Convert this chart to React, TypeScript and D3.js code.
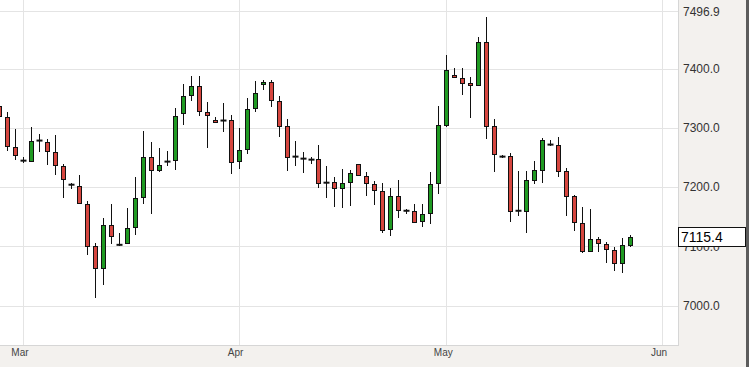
import { useEffect, useRef } from "react"
import * as d3 from "d3"

// daily candles, oldest first
const opens = [
  7337.9, 7319.3, 7268.5, 7244.8, 7244.8, 7278.7, 7277.0, 7260.1, 7236.4, 7204.2,
  7202.5, 7172.1, 7101.0, 7063.8, 7136.5, 7102.7, 7106.1, 7133.2, 7183.9, 7251.6,
  7229.6, 7243.2, 7246.5, 7324.4, 7354.8, 7370.0, 7327.7, 7314.2, 7312.5, 7314.2,
  7244.8, 7265.1, 7334.5, 7373.4, 7376.8, 7344.7, 7304.1, 7251.6, 7248.2, 7246.5,
  7248.2, 7207.6, 7209.3, 7199.2, 7209.3, 7239.8, 7219.5, 7205.9, 7194.1, 7129.8,
  7185.6, 7160.2, 7160.2, 7143.3, 7156.9, 7207.6, 7305.8, 7388.6, 7383.6, 7375.1,
  7371.7, 7444.5, 7304.1, 7251.6, 7253.3, 7160.2, 7160.2, 7212.7, 7229.6, 7271.9,
  7271.9, 7227.9, 7185.6, 7139.9, 7092.6, 7112.9, 7104.4, 7094.2, 7072.2, 7102.7,
]
const highs = [
  7343.0, 7327.7, 7299.0, 7251.6, 7302.4, 7290.5, 7282.1, 7288.8, 7239.8, 7207.6,
  7221.1, 7177.2, 7106.1, 7148.4, 7172.1, 7123.0, 7165.3, 7217.8, 7295.6, 7277.0,
  7266.8, 7261.8, 7334.5, 7373.4, 7386.9, 7386.9, 7343.0, 7319.3, 7341.3, 7322.7,
  7300.7, 7351.4, 7378.5, 7380.2, 7380.2, 7353.1, 7315.9, 7278.7, 7260.1, 7251.6,
  7271.9, 7236.4, 7217.8, 7231.3, 7229.6, 7239.8, 7226.2, 7211.0, 7207.6, 7199.2,
  7212.7, 7163.6, 7172.1, 7172.1, 7226.2, 7337.9, 7422.5, 7400.5, 7400.5, 7385.3,
  7453.0, 7486.8, 7315.9, 7255.0, 7258.4, 7227.9, 7227.9, 7244.8, 7283.7, 7280.4,
  7285.4, 7233.0, 7187.3, 7167.0, 7163.6, 7116.2, 7107.8, 7099.3, 7114.5, 7119.6,
]
const lows = [
  7315.9, 7261.8, 7246.5, 7241.4, 7243.2, 7260.1, 7238.1, 7221.1, 7182.2, 7197.4,
  7172.1, 7085.8, 7013.0, 7035.0, 7104.4, 7101.0, 7106.1, 7119.6, 7172.1, 7155.2,
  7226.2, 7236.4, 7229.6, 7305.8, 7344.7, 7321.0, 7266.8, 7309.1, 7293.9, 7222.8,
  7231.3, 7256.7, 7327.7, 7363.3, 7336.2, 7285.4, 7227.9, 7236.4, 7224.5, 7239.8,
  7199.2, 7182.2, 7167.0, 7165.3, 7168.7, 7221.1, 7185.6, 7170.4, 7123.0, 7117.9,
  7148.4, 7155.2, 7141.6, 7133.2, 7138.2, 7189.0, 7302.4, 7383.6, 7354.8, 7317.6,
  7370.0, 7282.1, 7226.2, 7249.9, 7141.6, 7151.8, 7123.0, 7205.9, 7207.6, 7270.2,
  7217.8, 7151.8, 7126.4, 7089.2, 7092.6, 7090.9, 7072.2, 7058.7, 7055.3, 7099.3,
]
const closes = [
  7321.0, 7270.2, 7255.0, 7244.8, 7278.7, 7278.7, 7261.8, 7238.1, 7214.4, 7204.2,
  7173.8, 7101.0, 7063.8, 7136.5, 7117.9, 7102.7, 7131.5, 7182.2, 7251.6, 7229.6,
  7238.1, 7243.2, 7321.0, 7353.1, 7370.0, 7329.4, 7322.7, 7310.8, 7312.5, 7243.2,
  7263.4, 7332.8, 7358.2, 7376.8, 7346.4, 7304.1, 7251.6, 7251.6, 7248.2, 7246.5,
  7207.6, 7207.6, 7199.2, 7207.6, 7224.5, 7221.1, 7207.6, 7195.7, 7128.1, 7185.6,
  7161.9, 7160.2, 7141.6, 7155.2, 7205.9, 7305.8, 7397.1, 7385.3, 7375.1, 7371.7,
  7444.5, 7304.1, 7256.7, 7251.6, 7160.2, 7160.2, 7212.7, 7229.6, 7280.4, 7271.9,
  7227.9, 7185.6, 7141.6, 7092.6, 7112.9, 7106.1, 7095.9, 7072.2, 7102.7, 7115.4,
]

const monthLabels = ["Mar", "Apr", "May", "Jun"]
const monthStarts = [3, 30, 56, 83] // candle index of the 1st of each month
const priceTicks = [7000, 7100, 7200, 7300, 7400, 7496.9]
const lastPrice = 7115.4

export default function App() {
  const svgRef = useRef<SVGSVGElement>(null)

  useEffect(() => {
    if (!svgRef.current) return

    const svg = d3.select(svgRef.current)
    svg.selectAll("*").remove()

    const width = 749
    const height = 367
    const plotW = 678
    const plotH = 345
    const font = "'Liberation Sans', Arial, sans-serif"

    svg.attr("width", width).attr("height", height)

    const x = d3.scaleLinear().domain([0, 79]).range([-1, 630])
    const y = d3.scaleLinear().domain([6933.6, 7516]).range([plotH, 0])

    // panel backgrounds
    svg.append("rect").attr("width", width).attr("height", height).style("fill", "#f3f1ee")
    svg.append("rect").attr("width", plotW).attr("height", plotH).style("fill", "#fff")
    svg.append("rect").attr("x", 746).attr("width", 3).attr("height", height).style("fill", "#5c5c5c")

    svg.append("clipPath").attr("id", "plot-clip")
      .append("rect").attr("width", plotW).attr("height", plotH)

    const grid = svg.append("g").style("shape-rendering", "crispEdges")

    priceTicks.forEach((t) => {
      grid.append("line")
        .attr("x1", 0).attr("x2", plotW)
        .attr("y1", Math.round(y(t)) + 0.5).attr("y2", Math.round(y(t)) + 0.5)
        .style("stroke", "#e4e4e4")
    })

    monthStarts.forEach((m) => {
      const mx = Math.round(x(m)) + 0.5
      grid.append("line")
        .attr("x1", mx).attr("x2", mx)
        .attr("y1", 0).attr("y2", plotH)
        .style("stroke", "#e4e4e4")
    })

    // plot frame
    grid.append("line").attr("x1", plotW + 0.5).attr("x2", plotW + 0.5).attr("y1", 0).attr("y2", plotH + 0.5)
      .style("stroke", "#d6d6d6")
    grid.append("line").attr("x1", 0).attr("x2", plotW + 0.5).attr("y1", plotH + 0.5).attr("y2", plotH + 0.5)
      .style("stroke", "#d6d6d6")

    // candles
    const candles = svg.append("g").attr("clip-path", "url(#plot-clip)")

    opens.forEach((o, i) => {
      const c = closes[i]
      const cx = Math.round(x(i)) + 0.5

      candles.append("line")
        .attr("x1", cx).attr("x2", cx)
        .attr("y1", y(highs[i])).attr("y2", y(lows[i]))
        .style("stroke", "#111")
        .style("stroke-width", 1)
        .style("shape-rendering", "crispEdges")

      if (o === c) {
        candles.append("line")
          .attr("x1", cx - 3).attr("x2", cx + 3)
          .attr("y1", y(c)).attr("y2", y(c))
          .style("stroke", "#111")
          .style("stroke-width", 2)
        return
      }

      const top = Math.round(y(Math.max(o, c))) + 0.5
      const bottom = Math.round(y(Math.min(o, c))) + 0.5
      candles.append("rect")
        .attr("x", cx - 2)
        .attr("y", top)
        .attr("width", 4)
        .attr("height", Math.max(bottom - top, 1))
        .style("fill", c > o ? "#1f9a22" : "#d6463f")
        .style("stroke", "#111")
        .style("stroke-width", 1)
        .style("shape-rendering", "crispEdges")
    })

    // price axis
    priceTicks.forEach((t) => {
      svg.append("text")
        .attr("x", 683)
        .attr("y", y(t))
        .attr("dy", "0.35em")
        .style("font-family", font)
        .style("font-size", "12px")
        .style("fill", "#333")
        .text(t.toFixed(1))
    })

    // month axis
    monthStarts.forEach((m, i) => {
      svg.append("text")
        .attr("x", x(m) - 3)
        .attr("y", 356)
        .attr("text-anchor", "middle")
        .style("font-family", font)
        .style("font-size", "10px")
        .style("fill", "#444")
        .text(monthLabels[i])
    })

    // last price marker
    const ly = Math.round(y(lastPrice))
    svg.append("rect")
      .attr("x", 678.5).attr("y", ly - 9.5)
      .attr("width", 67).attr("height", 19)
      .style("fill", "#fff")
      .style("stroke", "#111")
      .style("shape-rendering", "crispEdges")
    svg.append("text")
      .attr("x", 681)
      .attr("y", ly)
      .attr("dy", "0.36em")
      .style("font-family", font)
      .style("font-size", "14px")
      .style("fill", "#000")
      .text(lastPrice.toFixed(1))
  }, [])

  return <svg ref={svgRef} style={{ position: "absolute", left: 0, top: 0, display: "block" }} />
}
